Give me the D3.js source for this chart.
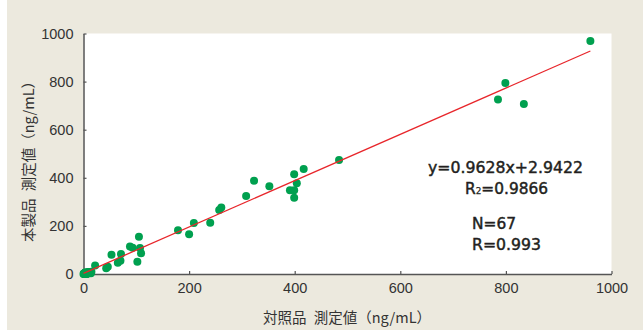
<!DOCTYPE html>
<html><head><meta charset="utf-8">
<script src="https://cdn.jsdelivr.net/npm/d3@7"></script>
<style>
html,body{margin:0;padding:0;background:#fff;}
svg{display:block;}
</style></head>
<body>
<script>
// Data: [reference (x), this product (y)] in ng/mL
const xValues = [960, 799, 785, 834, 484, 417, 399, 404, 391, 399, 399, 352, 323, 308, 261, 257, 240, 209, 179, 200,
  105, 53, 71, 88, 93, 107, 109, 102, 70, 65, 46, 43, 22, 14, 6, 0,
  2, 4, 5, 8, 3, 10, 12, 1, 6, 9, 3, 7, 11, 2, 5, 4, 8, 1, 15, 13, 6, 3, 2, 9, 4, 7, 1, 5, 10, 3, 2];
const yValues = [969, 794, 726, 707, 474, 437, 415, 377, 348, 348, 317, 365, 388, 324, 277, 266, 213, 212, 182, 165,
  155, 80, 83, 114, 109, 108, 86, 51, 55, 47, 30, 24, 35, 3, 0, 0,
  3, 2, 6, 4, 1, 7, 5, 2, 3, 8, 4, 1, 6, 0, 2, 5, 3, 1, 9, 4, 2, 6, 1, 3, 0, 5, 2, 4, 7, 1, 3];
const xTicks = [0, 200, 400, 600, 800, 1000];
const yTicks = [0, 200, 400, 600, 800, 1000];
const slope = 0.9628, intercept = 2.9422;
const fitRange = [0, 960];
const xTitle = "対照品\u2002測定値（ng/mL）";
const yTitle = "本製品\u2002測定値（ng/mL）";

const W = 643, H = 330;
const svg = d3.select("body").append("svg").attr("width", W).attr("height", H);

svg.append("rect").attr("x", 7).attr("y", 0).attr("width", W - 7).attr("height", H).attr("fill", "#ECE9DE");

const pL = 83.5, pR = 611.5, pT = 33.5, pB = 274;
const x = d3.scaleLinear().domain([0, 1000]).range([pL, pR]);
const y = d3.scaleLinear().domain([0, 1000]).range([pB, pT]);

svg.append("rect").attr("x", pL).attr("y", pT).attr("width", pR - pL).attr("height", pB - pT).attr("fill", "#fff");

const numFont = "'Liberation Sans', Arial, sans-serif";
const annFont = "'DejaVu Sans', sans-serif";
const cjkFont = "'Noto Sans CJK JP', sans-serif";

const xAxis = svg.append("g").attr("transform", `translate(0,${pB})`)
  .call(d3.axisBottom(x).tickValues(xTicks).tickFormat(d3.format("d")).tickSizeInner(-3).tickSizeOuter(0).tickPadding(9));
const yAxis = svg.append("g").attr("transform", `translate(${pL},0)`)
  .call(d3.axisLeft(y).tickValues(yTicks).tickFormat(d3.format("d")).tickSizeInner(-3).tickSizeOuter(0).tickPadding(10));
[xAxis, yAxis].forEach(g => {
  g.select(".domain").attr("stroke", "#555").attr("stroke-width", 1.5);
  g.selectAll(".tick line").attr("stroke", "#555").attr("stroke-width", 1.2);
  g.selectAll(".tick text").attr("fill", "#333").style("font-family", numFont).style("font-size", "14.5px");
});

// points
const pts = xValues.map((v, i) => [v, yValues[i]]);
svg.append("g").selectAll("circle").data(pts).join("circle")
  .attr("cx", d => x(d[0])).attr("cy", d => y(d[1])).attr("r", 4)
  .attr("fill", "#00A04F");

// fit line (drawn over points)
svg.append("line")
  .attr("x1", x(fitRange[0])).attr("y1", y(slope * fitRange[0] + intercept))
  .attr("x2", x(fitRange[1])).attr("y2", y(slope * fitRange[1] + intercept))
  .attr("stroke", "#E8262B").attr("stroke-width", 1.3);

// annotations
const ann = svg.append("g").style("font-family", annFont).style("font-size", "15.5px")
  .attr("fill", "#231F20").attr("stroke", "#231F20").attr("stroke-width", 0.45);
ann.append("text").attr("x", 428).attr("y", 173).attr("textLength", 155).attr("lengthAdjust", "spacingAndGlyphs").text("y=0.9628x+2.9422");
const r2 = ann.append("text").attr("x", 465).attr("y", 194).attr("textLength", 83).attr("lengthAdjust", "spacingAndGlyphs");
r2.append("tspan").text("R");
r2.append("tspan").style("font-size", "9px").attr("stroke-width", 0.25).text("2");
r2.append("tspan").text("=0.9866");
ann.append("text").attr("x", 472).attr("y", 229).attr("textLength", 44).attr("lengthAdjust", "spacingAndGlyphs").text("N=67");
ann.append("text").attr("x", 472).attr("y", 250).attr("textLength", 69).attr("lengthAdjust", "spacingAndGlyphs").text("R=0.993");

// axis titles
svg.append("text").attr("x", 347).attr("y", 323).attr("text-anchor", "middle")
  .style("font-family", cjkFont).style("font-size", "14.5px").attr("fill", "#333").text(xTitle);
svg.append("text").attr("transform", `translate(34,158) rotate(-90)`).attr("text-anchor", "middle")
  .style("font-family", cjkFont).style("font-size", "14.5px").attr("fill", "#333").text(yTitle);
</script>
</body></html>
